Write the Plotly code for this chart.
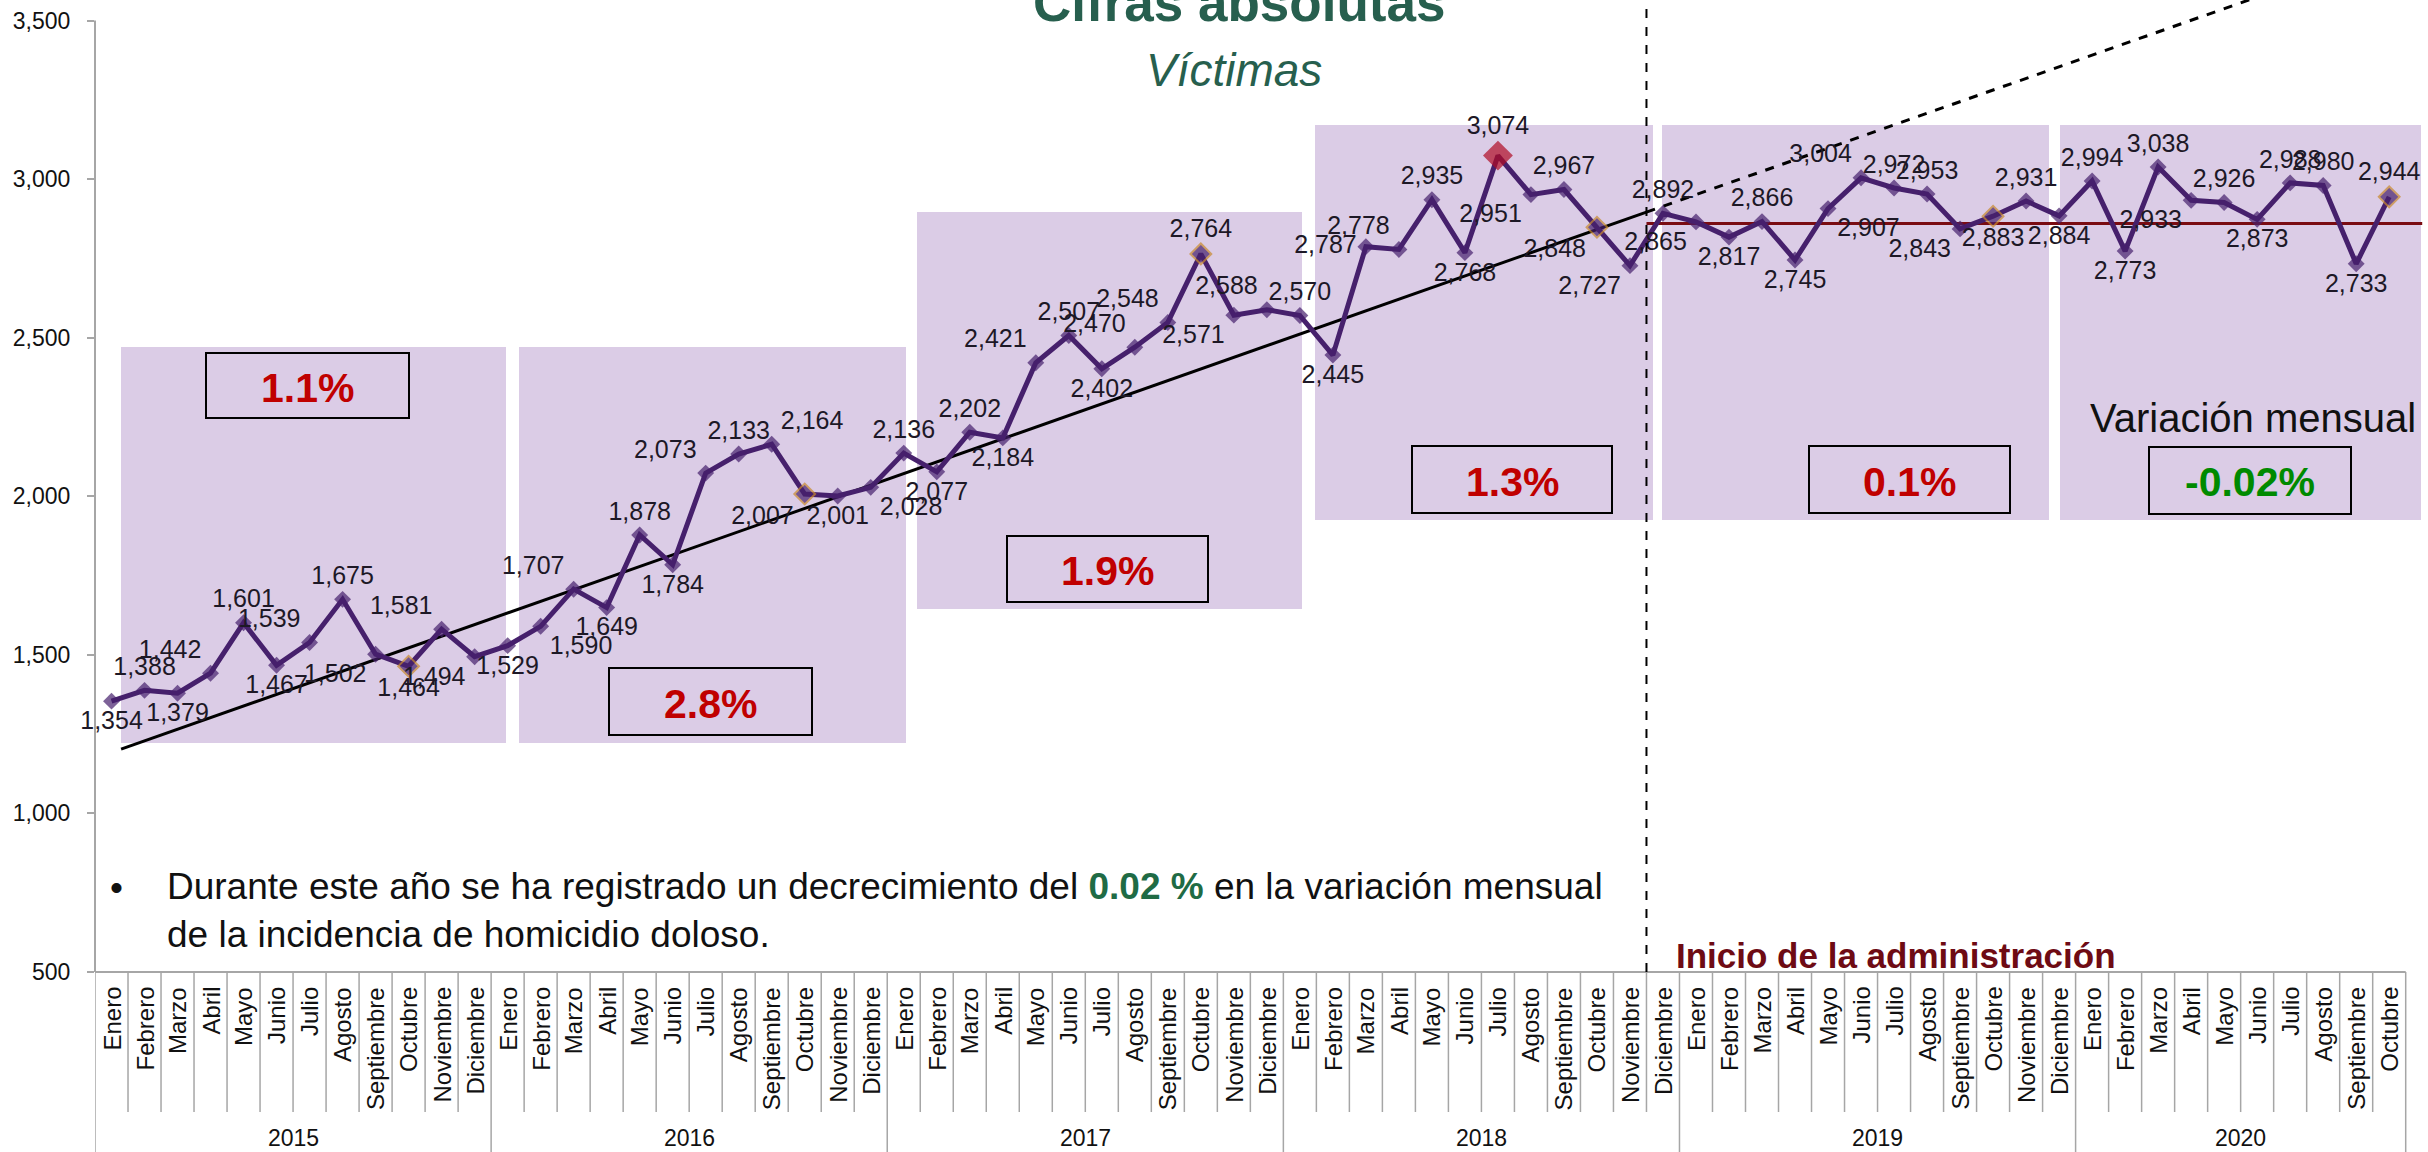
import plotly.graph_objects as go
import numpy as np

# ---------------- data ----------------
month_names = ["Enero", "Febrero", "Marzo", "Abril", "Mayo", "Junio", "Julio",
               "Agosto", "Septiembre", "Octubre", "Noviembre", "Diciembre"]
years = ["2015", "2016", "2017", "2018", "2019", "2020"]
months_per_year = [12, 12, 12, 12, 12, 10]

victimas_2015 = [1354, 1388, 1379, 1442, 1601, 1467, 1539, 1675, 1502, 1464, 1581, 1494]
victimas_2016 = [1529, 1590, 1707, 1649, 1878, 1784, 2073, 2133, 2164, 2007, 2001, 2028]
victimas_2017 = [2136, 2077, 2202, 2184, 2421, 2507, 2402, 2470, 2548, 2764, 2571, 2588]
victimas_2018 = [2570, 2445, 2787, 2778, 2935, 2768, 3074, 2951, 2967, 2848, 2727, 2892]
victimas_2019 = [2865, 2817, 2866, 2745, 2907, 3004, 2972, 2953, 2843, 2883, 2931, 2884]
victimas_2020 = [2994, 2773, 3038, 2933, 2926, 2873, 2988, 2980, 2733, 2944]

label_positions = [
    # 2015
    "bottom center", "top center", "bottom center", "top left", "top center", "bottom center",
    "top left", "top center", "bottom left", "bottom center", "top left", "bottom left",
    # 2016
    "bottom center", "bottom right", "top left", "bottom center", "top center", "bottom center",
    "top left", "top center", "top right", "bottom left", "bottom center", "bottom right",
    # 2017
    "top center", "bottom center", "top center", "bottom center", "top left", "top center",
    "bottom center", "top left", "top left", "top center", "bottom left", "top left",
    # 2018
    "top center", "bottom center", "middle left", "top left", "top center", "bottom center",
    "top center", "bottom left", "top center", "bottom left", "bottom left", "top center",
    # 2019
    "bottom left", "bottom center", "top center", "bottom center", "bottom right", "top left",
    "top center", "top center", "bottom left", "bottom center", "top center", "bottom center",
    # 2020
    "top center", "bottom center", "top center", "bottom left", "top center", "bottom center",
    "top center", "top center", "bottom center", "top center",
]

variaciones = ["1.1%", "2.8%", "1.9%", "1.3%", "0.1%", "-0.02%"]
variacion_colors = ["#c00000", "#c00000", "#c00000", "#c00000", "#c00000", "#008a00"]

# trend line (value at Enero 2015 and at start of administration)
trend_value_start = 1192
trend_value_admin = 2896
reference_level = 2860   # dark red horizontal line after start of administration

# ---------------- derived ----------------
values = victimas_2015 + victimas_2016 + victimas_2017 + victimas_2018 + victimas_2019 + victimas_2020
month_labels = []
for y, n in zip(years, months_per_year):
    month_labels += month_names[:n]
n_pts = len(values)
xs = np.arange(n_pts)
admin_idx = month_labels.index("Diciembre", 36)  # December 2018
boundary = admin_idx - 0.5

# ---------------- geometry (pixels of the page) ----------------
W, H = 2428, 1152
ML, MR, MT, MB = 95, 0, 0, 180
plot_w = W - ML - MR
plot_h = H - MT - MB
cat_w = 33.01
x_max = -0.5 + plot_w / cat_w
y_min = 500
y_top_tick = 3500
px_per_unit = (972 - 20.5) / (y_top_tick - y_min)
y_max = y_min + plot_h / px_per_unit


def px(xp):
    return (xp - ML) / plot_w


def py(yp):
    return (H - MB - yp) / plot_h


FONT = "Arial, 'Liberation Sans', sans-serif"
PURPLE = "#46206c"
ORANGE = "#c98a2e"
RED_PEAK = "#b00c24"

# marker styling
peak_i = int(np.argmax(values))
m_size, m_color, m_lcolor, m_lwidth = [], [], [], []
for i in range(n_pts):
    if i == peak_i:
        m_size.append(23); m_color.append(RED_PEAK); m_lcolor.append(RED_PEAK); m_lwidth.append(0)
    elif month_labels[i] == "Octubre":
        m_size.append(16); m_color.append(PURPLE); m_lcolor.append(ORANGE); m_lwidth.append(2)
    else:
        m_size.append(13); m_color.append(PURPLE); m_lcolor.append(PURPLE); m_lwidth.append(0)

slope = (trend_value_admin - trend_value_start) / boundary


def trend(x):
    return trend_value_start + slope * np.asarray(x)


fig = go.Figure()

trend_x_solid = np.array([0.29, boundary])
trend_x_dash = np.array([boundary, x_max + 1])
fig.add_trace(go.Scatter(x=trend_x_solid, y=trend(trend_x_solid), mode="lines",
                         line=dict(color="black", width=3), hoverinfo="skip", showlegend=False))
fig.add_trace(go.Scatter(x=trend_x_dash, y=trend(trend_x_dash), mode="lines",
                         line=dict(color="black", width=3, dash="dash"), hoverinfo="skip", showlegend=False))
fig.add_trace(go.Scatter(x=[boundary, 70.0], y=[reference_level, reference_level], mode="lines",
                         line=dict(color="#7a0c12", width=3), hoverinfo="skip", showlegend=False))

fig.add_trace(go.Scatter(
    x=xs, y=values, mode="lines+markers+text",
    line=dict(color=PURPLE, width=5),
    marker=dict(symbol="diamond", size=m_size, color=m_color,
                line=dict(color=m_lcolor, width=m_lwidth)),
    text=[f"{v:,}" for v in values], textposition=label_positions,
    textfont=dict(family=FONT, size=25, color="#1d1826"),
    cliponaxis=False, showlegend=False,
))

shapes = []
annotations = []

# lavender year panels (pixel boxes from the reference)
panels_px = [(121, 347, 506, 743), (519, 347, 906, 743), (917, 212, 1302, 609),
             (1315, 125, 1653, 520), (1662, 125, 2049, 520), (2060, 125, 2421, 520)]
for (x0, y0, x1, y1) in panels_px:
    shapes.append(dict(type="rect", xref="paper", yref="paper", x0=px(x0), x1=px(x1),
                       y0=py(y1), y1=py(y0), fillcolor="rgb(219,204,230)",
                       line=dict(width=0), layer="below"))

# boxes with variation %
boxes_px = [(206, 353, 409, 418), (609, 668, 812, 735), (1007, 536, 1208, 602),
            (1412, 446, 1612, 513), (1809, 446, 2010, 513), (2149, 447, 2351, 514)]
for (x0, y0, x1, y1), txt, col in zip(boxes_px, variaciones, variacion_colors):
    shapes.append(dict(type="rect", xref="paper", yref="paper", x0=px(x0), x1=px(x1),
                       y0=py(y1), y1=py(y0), line=dict(color="black", width=2)))
    annotations.append(dict(xref="paper", yref="paper", x=px((x0 + x1) / 2), y=py((y0 + y1) / 2 + 2),
                            text=f"<b>{txt}</b>", showarrow=False, xanchor="center", yanchor="middle",
                            font=dict(family=FONT, size=41, color=col)))

annotations.append(dict(xref="paper", yref="paper", x=px(2253), y=py(418), text="Variación mensual",
                        showarrow=False, xanchor="center", yanchor="middle",
                        font=dict(family=FONT, size=40, color="#111111")))

# axis lines
shapes.append(dict(type="line", xref="paper", yref="y", x0=0, x1=0, y0=y_min, y1=y_top_tick,
                   line=dict(color="#a6a6a6", width=2)))
shapes.append(dict(type="line", xref="x", yref="paper", x0=-0.5, x1=n_pts - 0.5, y0=0, y1=0,
                   line=dict(color="#a6a6a6", width=2)))

# category separators
year_starts = np.cumsum([0] + months_per_year)
for k in range(n_pts + 1):
    is_year = k in year_starts
    shapes.append(dict(type="line", xref="x", yref="paper", x0=k - 0.5, x1=k - 0.5,
                       y0=0, y1=-(180 if is_year else 140) / plot_h,
                       line=dict(color="#a6a6a6", width=1.5)))

# month labels
for i, m in enumerate(month_labels):
    annotations.append(dict(xref="x", yref="paper", x=i, y=0, yshift=-13, text=m, textangle=-90,
                            showarrow=False, xanchor="center", yanchor="top",
                            font=dict(family=FONT, size=24, color="#111111")))
# year labels
for y, s, n in zip(years, year_starts[:-1], months_per_year):
    annotations.append(dict(xref="x", yref="paper", x=s + (n - 1) / 2, y=py(1138), text=y,
                            showarrow=False, xanchor="center", yanchor="middle",
                            font=dict(family=FONT, size=23, color="#111111")))

# administration start line
shapes.append(dict(type="line", xref="x", yref="paper", x0=boundary, x1=boundary, y0=0, y1=1,
                   line=dict(color="black", width=2, dash="dash")))
annotations.append(dict(xref="paper", yref="paper", x=px(1896), y=py(955),
                        text="<b>Inicio de la administración</b>", showarrow=False,
                        xanchor="center", yanchor="middle",
                        font=dict(family=FONT, size=35, color="#6e0b14")))

# titles
annotations.append(dict(xref="paper", yref="paper", x=px(1239), y=py(34),
                        text="<b>Cifras absolutas</b>", showarrow=False,
                        xanchor="center", yanchor="bottom",
                        font=dict(family=FONT, size=53, color="#275f4e")))
annotations.append(dict(xref="paper", yref="paper", x=px(1234), y=py(98),
                        text="<i>Víctimas</i>", showarrow=False,
                        xanchor="center", yanchor="bottom",
                        font=dict(family=FONT, size=46, color="#275f4e")))

# bullet text
annotations.append(dict(xref="paper", yref="paper", x=px(116), y=py(887), text="•",
                        showarrow=False, xanchor="center", yanchor="middle",
                        font=dict(family=FONT, size=37, color="#111111")))
annotations.append(dict(xref="paper", yref="paper", x=px(165), y=py(910),
                        text=("Durante este año se ha registrado un decrecimiento del "
                              "<b><span style='color:#1f6b45'>0.02 %</span></b> en la variación mensual"
                              "<br>de la incidencia de homicidio doloso."),
                        showarrow=False, xanchor="left", yanchor="middle", align="left",
                        font=dict(family=FONT, size=37, color="#111111")))

fig.update_layout(
    width=W, height=H,
    margin=dict(l=ML, r=MR, t=MT, b=MB),
    paper_bgcolor="white", plot_bgcolor="rgba(0,0,0,0)",
    shapes=shapes, annotations=annotations,
    xaxis=dict(range=[-0.5, x_max], showticklabels=False, showgrid=False, zeroline=False,
               showline=False, ticks=""),
    yaxis=dict(range=[y_min, y_max], tickvals=list(range(500, 3501, 500)), tickformat=",",
               showgrid=False, zeroline=False, showline=False, ticks="outside", ticklen=7,
               tickcolor="#a6a6a6", tickwidth=2, ticklabelstandoff=12,
               tickfont=dict(family=FONT, size=23, color="#111111")),
    font=dict(family=FONT),
)

fig.write_html("out.html", config={"displayModeBar": False},
               post_script="document.body.style.margin='0';document.body.style.overflow='hidden';")
